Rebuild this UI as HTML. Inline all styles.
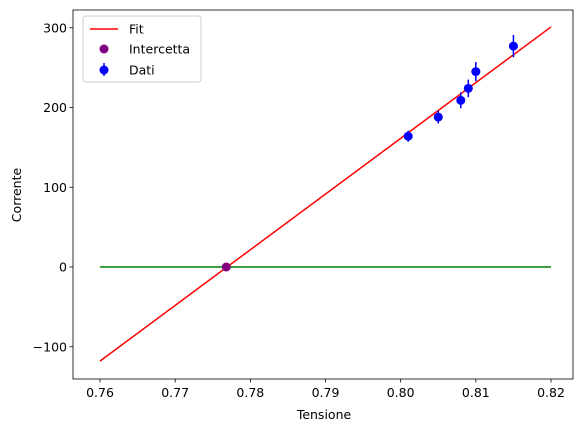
<!DOCTYPE html>
<html><head><meta charset="utf-8"><style>
body{margin:0;background:#fff;font-family:"Liberation Sans","DejaVu Sans",sans-serif;}
</style></head><body>
<svg id="c" width="583" height="432" xmlns="http://www.w3.org/2000/svg" font-family="DejaVu Sans, Liberation Sans, sans-serif">
</svg>
<script>
const xs=[0.801,0.805,0.808,0.809,0.810,0.815];
const ys=[164,188,209,224,245,277];
const errs=[7,8,10,11,12,14];
const fitX=[0.76,0.82];
const fitY=[-118,301];
const zeroX=[0.76,0.82];
const interX=[0.7768];
const interY=[0];
const xTicks=[0.76,0.77,0.78,0.79,0.80,0.81,0.82];
const yTicks=[-100,0,100,200,300];
const L=73,R=573,T=10,B=379;
const FS=12.5;
const X=v=>100+(v-0.76)/0.06*451;
const Y=v=>267-v*0.7975;
const s=document.getElementById('c');
const NS='http://www.w3.org/2000/svg';
function mk(t,a,p){const e=document.createElementNS(NS,t);for(const k in a)e.setAttribute(k,a[k]);(p||s).appendChild(e);return e;}
let e;
e=mk('line',{x1:X(fitX[0]),y1:Y(fitY[0]),x2:X(fitX[1]),y2:Y(fitY[1]),stroke:'#ff0000','stroke-width':1.5});


e=mk('line',{x1:X(zeroX[0]),y1:Y(0),x2:X(zeroX[1]),y2:Y(0),stroke:'#008000','stroke-width':1.5});


e=mk('circle',{cx:X(interX[0]),cy:Y(interY[0]),r:4.5,fill:'#800080'});


xs.forEach((x,i)=>{
 const g=mk('g',{});
 
 
 mk('line',{x1:X(x),x2:X(x),y1:Y(ys[i]-errs[i]),y2:Y(ys[i]+errs[i]),stroke:'#0000ff','stroke-width':1.5},g);
 mk('circle',{cx:X(x),cy:Y(ys[i]),r:4.5,fill:'#0000ff'},g);
});
e=mk('rect',{x:L,y:T,width:R-L,height:B-T,fill:'none',stroke:'#000','stroke-width':0.8});


xTicks.forEach(t=>{
 mk('line',{x1:X(t),x2:X(t),y1:B,y2:B+3.5,stroke:'#000','stroke-width':0.8});
 e=mk('text',{x:X(t),y:B+18,'font-size':FS,'text-anchor':'middle',fill:'#000'});e.textContent=t.toFixed(2);
 
 
});
yTicks.forEach(t=>{
 mk('line',{x1:L-3.5,x2:L,y1:Y(t),y2:Y(t),stroke:'#000','stroke-width':0.8});
 e=mk('text',{x:L-6,y:Y(t)+4.5,'font-size':FS,'text-anchor':'end',fill:'#000'});e.textContent=t<0?'\u2212'+(-t):t;
 
 
});
e=mk('text',{x:324,y:419,'font-size':FS,'text-anchor':'middle'});e.textContent='Tensione';


e=mk('text',{x:21,y:195,'font-size':FS,'text-anchor':'middle',transform:'rotate(-90 21 195)'});e.textContent='Corrente';


const lg=mk('g',{});


mk('rect',{x:83,y:16,width:118,height:66,rx:3,fill:'#fff','fill-opacity':0.8,stroke:'#ccc'},lg);
mk('line',{x1:90,x2:118,y1:29,y2:29,stroke:'#ff0000','stroke-width':1.5},lg);
mk('circle',{cx:104,cy:49,r:4.5,fill:'#800080'},lg);
mk('line',{x1:104,x2:104,y1:63,y2:76,stroke:'#0000ff','stroke-width':1.5},lg);
mk('circle',{cx:104,cy:70,r:4.5,fill:'#0000ff'},lg);
[['Fit',33.5],['Intercetta',53.5],['Dati',74.5]].forEach(([t,y])=>{e=mk('text',{x:129,y:y,'font-size':FS},lg);e.textContent=t;
 
 });
</script>
</body></html>
